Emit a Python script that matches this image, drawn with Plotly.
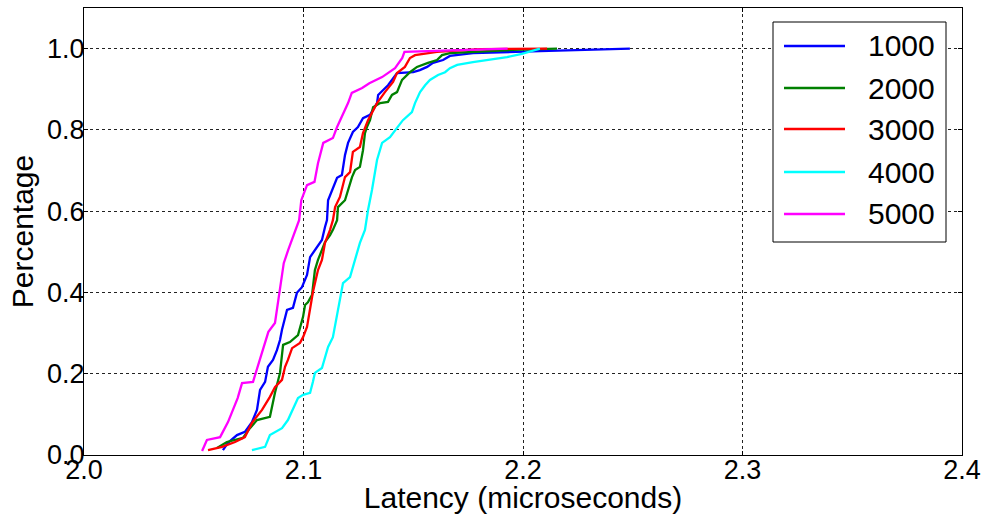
import plotly.graph_objects as go

# ---- data ----
series_names = ["1000", "2000", "3000", "4000", "5000"]
series_colors = ["#0000ff", "#008000", "#ff0000", "#00ffff", "#ff00ff"]

lat_1000 = [2.0633, 2.0656, 2.0697, 2.0733, 2.0765, 2.0788, 2.0802, 2.0825, 2.0838, 2.0861,
            2.0879, 2.0893, 2.0902, 2.0925, 2.0952, 2.0970, 2.0993, 2.1016, 2.1030, 2.1052,
            2.1084, 2.1098, 2.1107, 2.1112, 2.1130, 2.1153, 2.1175, 2.1189, 2.1203, 2.1225,
            2.1248, 2.1271, 2.1303, 2.1335, 2.1340, 2.1385, 2.1426, 2.1500, 2.1530, 2.1563,
            2.1590, 2.1636, 2.1667, 2.1772, 2.2077, 2.2487]
pct_1000 = [0.012, 0.030, 0.049, 0.057, 0.081, 0.111, 0.160, 0.180, 0.217, 0.234,
            0.258, 0.283, 0.308, 0.357, 0.362, 0.399, 0.413, 0.443, 0.487, 0.504,
            0.529, 0.561, 0.578, 0.627, 0.652, 0.682, 0.689, 0.738, 0.768, 0.795,
            0.807, 0.829, 0.837, 0.866, 0.886, 0.910, 0.940, 0.942, 0.947, 0.955,
            0.965, 0.972, 0.982, 0.989, 0.994, 1.000]

lat_2000 = [2.0606, 2.0651, 2.0724, 2.0756, 2.0788, 2.0847, 2.0870, 2.0893, 2.0907, 2.0938,
            2.0975, 2.0984, 2.0998, 2.1007, 2.1020, 2.1039, 2.1052, 2.1066, 2.1084, 2.1098,
            2.1121, 2.1134, 2.1153, 2.1157, 2.1189, 2.1203, 2.1221, 2.1235, 2.1257, 2.1271,
            2.1280, 2.1289, 2.1303, 2.1317, 2.1349, 2.1385, 2.1403, 2.1426, 2.1449, 2.1485,
            2.1517, 2.1567, 2.1608, 2.1631, 2.1667, 2.1954, 2.2155]
pct_2000 = [0.017, 0.032, 0.042, 0.066, 0.086, 0.094, 0.153, 0.202, 0.271, 0.278,
            0.295, 0.315, 0.340, 0.369, 0.376, 0.394, 0.455, 0.480, 0.504, 0.524,
            0.541, 0.554, 0.578, 0.610, 0.627, 0.652, 0.684, 0.701, 0.709, 0.750,
            0.792, 0.807, 0.824, 0.856, 0.866, 0.869, 0.886, 0.893, 0.923, 0.942,
            0.955, 0.965, 0.972, 0.984, 0.989, 0.997, 1.000]

lat_3000 = [2.0565, 2.0629, 2.0688, 2.0733, 2.0765, 2.0811, 2.0847, 2.0870, 2.0902, 2.0916,
            2.0929, 2.0948, 2.0984, 2.0998, 2.1016, 2.1030, 2.1043, 2.1066, 2.1084, 2.1098,
            2.1121, 2.1134, 2.1144, 2.1166, 2.1189, 2.1212, 2.1225, 2.1257, 2.1271, 2.1294,
            2.1312, 2.1335, 2.1371, 2.1408, 2.1426, 2.1462, 2.1485, 2.1508, 2.1608, 2.1804,
            2.2110]
pct_3000 = [0.012, 0.020, 0.032, 0.044, 0.079, 0.111, 0.143, 0.167, 0.185, 0.217,
            0.234, 0.263, 0.276, 0.290, 0.315, 0.357, 0.401, 0.455, 0.480, 0.522,
            0.554, 0.578, 0.610, 0.635, 0.684, 0.696, 0.746, 0.758, 0.792, 0.824,
            0.842, 0.866, 0.893, 0.918, 0.940, 0.955, 0.977, 0.984, 0.992, 0.999,
            1.000]

lat_4000 = [2.0765, 2.0825, 2.0847, 2.0902, 2.0929, 2.0952, 2.0975, 2.0998, 2.1030, 2.1043,
            2.1052, 2.1084, 2.1098, 2.1112, 2.1134, 2.1157, 2.1166, 2.1180, 2.1212, 2.1235,
            2.1257, 2.1280, 2.1294, 2.1312, 2.1326, 2.1335, 2.1358, 2.1394, 2.1426, 2.1453,
            2.1494, 2.1508, 2.1531, 2.1554, 2.1576, 2.1613, 2.1645, 2.1667, 2.1700, 2.1772,
            2.1927, 2.1995, 2.2077]
pct_4000 = [0.012, 0.020, 0.049, 0.066, 0.086, 0.111, 0.140, 0.148, 0.153, 0.180,
            0.202, 0.214, 0.239, 0.266, 0.290, 0.357, 0.381, 0.423, 0.438, 0.480,
            0.522, 0.554, 0.603, 0.652, 0.701, 0.726, 0.768, 0.782, 0.805, 0.824,
            0.844, 0.866, 0.893, 0.910, 0.923, 0.935, 0.942, 0.952, 0.960, 0.967,
            0.979, 0.987, 1.000]

lat_5000 = [2.0538, 2.0560, 2.0620, 2.0656, 2.0700, 2.0720, 2.0770, 2.0790, 2.0810, 2.0840,
            2.0870, 2.0890, 2.0910, 2.0930, 2.0960, 2.0980, 2.0990, 2.1016, 2.1050, 2.1066,
            2.1090, 2.1134, 2.1153, 2.1175, 2.1203, 2.1220, 2.1267, 2.1300, 2.1358, 2.1417,
            2.1450, 2.1460, 2.1710, 2.1930]
pct_5000 = [0.010, 0.037, 0.044, 0.081, 0.140, 0.177, 0.180, 0.217, 0.251, 0.303,
            0.325, 0.401, 0.472, 0.504, 0.546, 0.578, 0.627, 0.664, 0.672, 0.718,
            0.768, 0.780, 0.807, 0.832, 0.866, 0.891, 0.903, 0.915, 0.930, 0.952,
            0.977, 0.992, 0.997, 1.000]

x_ticks = [2.0, 2.1, 2.2, 2.3, 2.4]
x_tick_labels = ["2.0", "2.1", "2.2", "2.3", "2.4"]
y_ticks = [0.0, 0.2, 0.4, 0.6, 0.8, 1.0]
y_tick_labels = ["0.0", "0.2", "0.4", "0.6", "0.8", "1.0"]

xs = [lat_1000, lat_2000, lat_3000, lat_4000, lat_5000]
ys = [pct_1000, pct_2000, pct_3000, pct_4000, pct_5000]

FONT = "Liberation Sans, Arial, sans-serif"
W, H = 982, 514
ML, MR, MT, MB = 84, 20, 8, 59
PW, PH = W - ML - MR, H - MT - MB


def px_to_paper_x(px):
    return (px - ML) / PW


def px_to_paper_y(py):
    return (H - MB - py) / PH


fig = go.Figure()
for name, color, x, y in zip(series_names, series_colors, xs, ys):
    fig.add_trace(go.Scatter(
        x=x, y=y, mode="lines", name=name,
        line=dict(color=color, width=2.3),
        showlegend=False,
    ))

axis_common = dict(
    showline=True, linecolor="black", linewidth=1, mirror="allticks",
    ticks="inside", ticklen=4, tickcolor="black",
    showgrid=True, gridcolor="#222222", griddash="dot", gridwidth=1,
    zeroline=False, automargin=False,
    tickfont=dict(family=FONT, size=27, color="black"),
)

# ---- legend box (matplotlib-style, drawn in the upper right) ----
shapes = [dict(type="rect", xref="paper", yref="paper",
               x0=px_to_paper_x(773), x1=px_to_paper_x(946),
               y0=px_to_paper_y(242), y1=px_to_paper_y(22),
               line=dict(color="black", width=1), fillcolor="white", layer="above")]
annotations = []
row_y = [46, 88, 129, 172, 214]
for name, color, ry in zip(series_names, series_colors, row_y):
    shapes.append(dict(type="line", xref="paper", yref="paper",
                       x0=px_to_paper_x(784), x1=px_to_paper_x(845),
                       y0=px_to_paper_y(ry), y1=px_to_paper_y(ry),
                       line=dict(color=color, width=2.3), layer="above"))
    annotations.append(dict(text=name, xref="paper", yref="paper",
                            x=px_to_paper_x(866), y=px_to_paper_y(ry),
                            xanchor="left", yanchor="middle", showarrow=False,
                            font=dict(family=FONT, size=30, color="black")))

fig.update_layout(
    width=W, height=H,
    margin=dict(l=ML, r=MR, t=MT, b=MB),
    paper_bgcolor="white", plot_bgcolor="white",
    font=dict(family=FONT, color="black"),
    xaxis=dict(range=[2.0, 2.4], tickvals=x_ticks, ticktext=x_tick_labels,
               ticklabelstandoff=-9,
               title=dict(text="Latency (microseconds)", font=dict(family=FONT, size=30), standoff=2),
               **axis_common),
    yaxis=dict(range=[0, 1.1], tickvals=y_ticks, ticktext=y_tick_labels,
               ticklabelstandoff=-7,
               title=dict(text="Percentage", font=dict(family=FONT, size=30), standoff=4),
               **axis_common),
    shapes=shapes,
    annotations=annotations,
    showlegend=False,
)

fig.write_html("out.html")
